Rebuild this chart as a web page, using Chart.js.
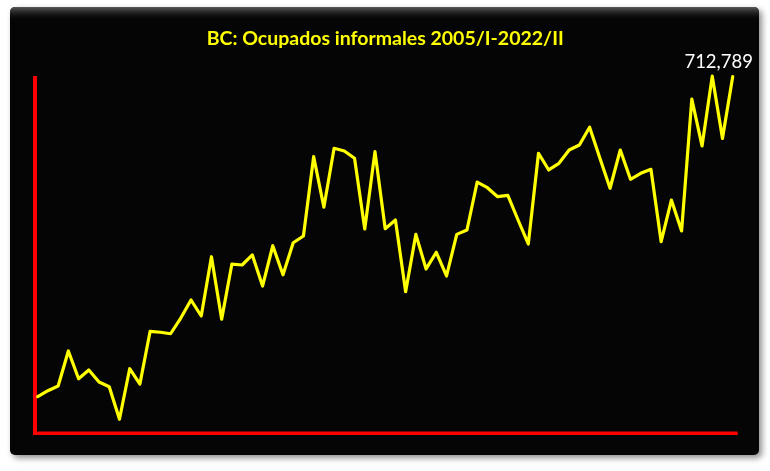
<!DOCTYPE html>
<html>
<head>
<meta charset="utf-8">
<script src="https://cdn.jsdelivr.net/npm/chart.js@4/dist/chart.umd.min.js"></script>
<style>
html,body{margin:0;padding:0;background:#ffffff;}
#wrap{width:770px;height:471px;}
</style>
</head>
<body>
<div id="wrap"><canvas id="c" width="770" height="471"></canvas></div>
<script>
const titleText = "BC: Ocupados informales 2005/I-2022/II";
const categories = [
 "2005/I","2005/II","2005/III","2005/IV","2006/I","2006/II","2006/III","2006/IV",
 "2007/I","2007/II","2007/III","2007/IV","2008/I","2008/II","2008/III","2008/IV",
 "2009/I","2009/II","2009/III","2009/IV","2010/I","2010/II","2010/III","2010/IV",
 "2011/I","2011/II","2011/III","2011/IV","2012/I","2012/II","2012/III","2012/IV",
 "2013/I","2013/II","2013/III","2013/IV","2014/I","2014/II","2014/III","2014/IV",
 "2015/I","2015/II","2015/III","2015/IV","2016/I","2016/II","2016/III","2016/IV",
 "2017/I","2017/II","2017/III","2017/IV","2018/I","2018/II","2018/III","2018/IV",
 "2019/I","2019/II","2019/III","2019/IV","2020/I","2020/III","2020/IV",
 "2021/I","2021/II","2021/III","2021/IV","2022/I","2022/II"
];
const ocupadosInformales = [
 476800,481200,484700,510500,490000,496500,487600,484100,460100,497400,
 486100,525000,524300,523200,534800,548100,536300,580000,533900,574600,
 573900,581300,558400,588100,566700,590300,595300,653800,616500,660000,
 658000,652600,600500,657500,600700,607100,554200,596500,571000,583300,
 565800,596500,599700,635100,630900,624300,625200,607100,589400,656300,
 644000,648900,658700,662400,675500,652800,630500,658700,637100,641500,
 644500,591100,621800,599000,696300,661700,713200,667300,712789
];
const yMin = 450000;
const yMax = 713300;

const framePlugin = {
  id: 'frame',
  beforeDraw(chart) {
    const ctx = chart.ctx;
    ctx.save();
    ctx.fillStyle = '#ffffff';
    ctx.fillRect(0, 0, chart.width, chart.height);
    const x = 10, y = 7, w = 749, h = 448, r = 5;
    ctx.shadowColor = 'rgba(0,0,0,0.45)';
    ctx.shadowBlur = 6;
    ctx.shadowOffsetX = 3;
    ctx.shadowOffsetY = 3;
    ctx.beginPath();
    ctx.roundRect(x, y, w, h, r);
    ctx.fillStyle = '#050505';
    ctx.fill();
    ctx.shadowColor = 'transparent';
    const g = ctx.createLinearGradient(0, y, 0, y + 14);
    g.addColorStop(0, '#5a5a5a');
    g.addColorStop(1, 'rgba(5,5,5,0)');
    ctx.beginPath();
    ctx.roundRect(x, y, w, 14, [r, r, 0, 0]);
    ctx.fillStyle = g;
    ctx.fill();
    ctx.restore();
  },
  beforeDatasetsDraw(chart) {
    const ctx = chart.ctx;
    const a = chart.chartArea;
    ctx.save();
    ctx.strokeStyle = '#ff0000';
    ctx.lineCap = 'butt';
    ctx.lineWidth = 4;
    ctx.beginPath();
    ctx.moveTo(a.left - 2.7, a.top);
    ctx.lineTo(a.left - 2.7, a.bottom + 2);
    ctx.stroke();
    ctx.lineWidth = 3.5;
    ctx.beginPath();
    ctx.moveTo(a.left - 4.7, a.bottom + 0.3);
    ctx.lineTo(a.right + 5, a.bottom + 0.3);
    ctx.stroke();
    ctx.restore();
  },
  afterDatasetsDraw(chart) {
    const ctx = chart.ctx;
    const meta = chart.getDatasetMeta(0);
    const last = meta.data[meta.data.length - 1];
    const v = ocupadosInformales[ocupadosInformales.length - 1];
    ctx.save();
    ctx.fillStyle = '#ffffff';
    ctx.font = '18.5px Lato, "Open Sans", sans-serif';
    ctx.textAlign = 'center';
    ctx.textBaseline = 'middle';
    ctx.fillText(v.toLocaleString('en-US'), last.x - 14, last.y - 15);
    ctx.restore();
  }
};

new Chart(document.getElementById('c'), {
  type: 'line',
  data: {
    labels: categories,
    datasets: [{
      data: ocupadosInformales,
      borderColor: '#ffff00',
      borderWidth: 3.2,
      borderJoinStyle: 'round',
      borderCapStyle: 'round',
      pointRadius: 0,
      tension: 0,
      fill: false,
      clip: false
    }]
  },
  options: {
    responsive: false,
    animation: false,
    devicePixelRatio: 1,
    layout: { padding: { left: 37.7, right: 37.3, top: 0, bottom: 38 } },
    plugins: {
      legend: { display: false },
      tooltip: { enabled: false },
      title: {
        display: true,
        text: titleText,
        color: '#ffff00',
        font: { family: 'Lato, "Open Sans", sans-serif', size: 19.5, weight: 'bold', lineHeight: 1.2 },
        padding: { top: 27, bottom: 25.6 }
      }
    },
    scales: {
      x: { display: false, offset: false },
      y: { display: false, min: yMin, max: yMax }
    }
  },
  plugins: [framePlugin]
});
</script>
</body>
</html>
